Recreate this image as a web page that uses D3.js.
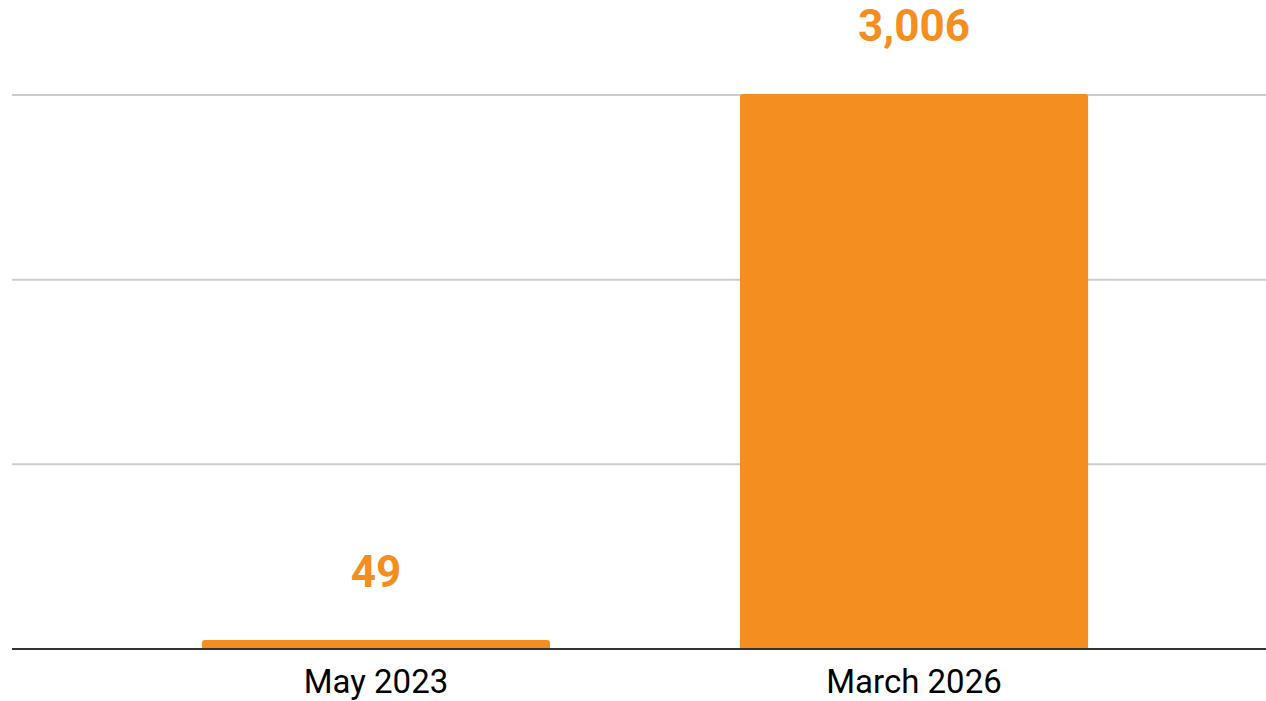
<!DOCTYPE html>
<html><head><meta charset="utf-8">
<script src="https://cdn.jsdelivr.net/npm/d3@7"></script>
<style>body{margin:0;background:#fff}svg{display:block}</style>
</head><body>
<svg id="c" width="1266" height="701"></svg>
<script>
const categories = ["May 2023", "March 2026"];
const values = [49, 3006];
const gridTicks = [1000, 2000, 3000];

const svg = d3.select("#c");
const orange = "#f58e21";
const x = d3.scaleBand().domain(categories).range([12, 1278]).paddingInner(0.353).paddingOuter(0.353);
const y = d3.scaleLinear().domain([0, 3000]).range([649, 95]);

svg.append("g").selectAll("line").data(gridTicks).join("line")
  .attr("x1", 12).attr("x2", 1266)
  .attr("y1", d => y(d)).attr("y2", d => y(d))
  .attr("stroke", "#cccccc").attr("stroke-width", 2);

const r = 3;
svg.append("g").selectAll("path").data(values).join("path")
  .attr("fill", orange)
  .attr("d", (d, i) => {
    const x0 = x(categories[i]), w = x.bandwidth(), y0 = y(d), y1 = y(0);
    return `M${x0},${y1}V${y0 + r}Q${x0},${y0} ${x0 + r},${y0}H${x0 + w - r}Q${x0 + w},${y0} ${x0 + w},${y0 + r}V${y1}Z`;
  });

svg.append("line").attr("x1", 12).attr("x2", 1266).attr("y1", y(0)).attr("y2", y(0))
  .attr("stroke", "#333").attr("stroke-width", 2);

const fmt = d3.format(",");
svg.append("g").selectAll("text").data(values).join("text")
  .attr("x", (d, i) => x(categories[i]) + x.bandwidth() / 2)
  .attr("y", d => y(d) - 53)
  .attr("text-anchor", "middle")
  .attr("font-family", "Roboto, sans-serif").attr("font-weight", "bold").attr("font-size", 44)
  .attr("fill", orange)
  .text(d => fmt(d));

const xAxis = d3.axisBottom(x).tickSize(0).tickPadding(0);
const gx = svg.append("g").attr("transform", `translate(0,${y(0)})`).call(xAxis);
gx.select(".domain").remove();
gx.selectAll("text").attr("dy", null).attr("y", 44)
  .attr("font-family", "Roboto, sans-serif").attr("font-size", 33).attr("fill", "#000");
</script>
</body></html>
